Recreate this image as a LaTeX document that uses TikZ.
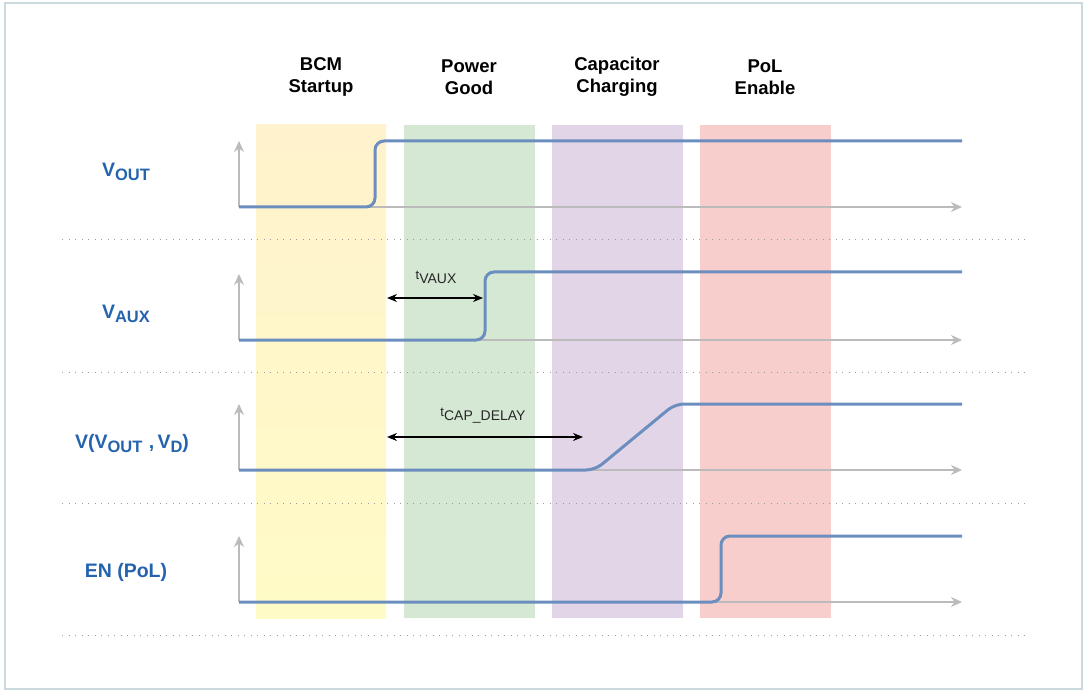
\documentclass[tikz,border=0pt]{standalone}
\usepackage{fontspec}
\setmainfont{Liberation Sans}
\usetikzlibrary{arrows.meta}
\definecolor{frame}{HTML}{C9D9DE}
\definecolor{bandY}{HTML}{FFF2CC}
\definecolor{bandY2}{HTML}{FFFBC6}
\definecolor{bandG}{HTML}{D5E8D4}
\definecolor{bandP}{HTML}{E1D5E7}
\definecolor{bandR}{HTML}{F8CECC}
\definecolor{sig}{HTML}{6C8EBF}
\definecolor{axisc}{HTML}{BBBBBB}
\definecolor{lblue}{HTML}{2563AE}
\definecolor{dotc}{HTML}{9A9A9A}
\tikzset{
  band/.style={draw=none},
  phase/.style={font=\fontsize{18.5}{22}\selectfont\bfseries, align=center, text=black},
  axis/.style={draw=axisc, line width=1.3pt, -{Stealth[length=11pt,width=10pt]}},
  signal/.style={draw=sig, line width=3pt, rounded corners=9pt},
  sep/.style={draw=dotc, line width=1pt, dash pattern=on 1pt off 5.5pt},
  rowlbl/.style={font=\fontsize{19.5}{22}\selectfont\bfseries, text=lblue},
  tarrow/.style={draw=black, line width=1.2pt, {Stealth[length=10pt,width=8pt]}-{Stealth[length=10pt,width=8pt]}},
  tlbl/.style={font=\fontsize{13}{16}\selectfont, text=black!85}
}
\newcommand{\sub}[1]{\raisebox{-4pt}{\fontsize{16.5}{18}\selectfont #1}}
\newcommand{\tsub}[1]{\raisebox{-4pt}{\fontsize{14}{16}\selectfont #1}}
\begin{document}
\begin{tikzpicture}[x=1pt,y=-1pt]
\useasboundingbox (0,0) rectangle (1086,692);
\fill[white] (0,0) rectangle (1086,692);
\draw[frame, line width=1.2pt] (5,3) rectangle (1082,689);
% bands
\shade[band, top color=bandY, bottom color=bandY2] (256,125) rectangle (386,618);
\fill[bandG] (404,125) rectangle (535,618);
\fill[bandP] (552,125) rectangle (683,618);
\fill[bandR] (700,125) rectangle (831,618);
% phase titles
\node[phase] (p1) at (321,77) {BCM\\Startup};
\node[phase] (p2) at (469,77) {Power\\Good};
\node[phase] (p3) at (617,77) {Capacitor\\Charging};
\node[phase] (p4) at (765,77) {PoL\\Enable};
% separators
\foreach \y in {240,372,503,635} \draw[sep] (62,\y) -- (1028,\y);
% axes
\foreach \b in {207,340,470,602} {
  \draw[axis] (239,\b) -- (239,\b-66);
  \draw[axis] (239,\b) -- (962,\b);
}
% signals
\draw[signal] (239,207) -- (375,207) -- (375,141) -- (962,141);
\draw[signal] (239,340) -- (485,340) -- (485,272) -- (962,272);
\draw[signal] (239,470) -- (595,470) -- (675,404) -- (962,404);
\draw[signal] (239,602) -- (721,602) -- (721,536) -- (962,536);
% row labels
\node[rowlbl] (r1) at (126,172) {V\sub{OUT}};
\node[rowlbl] (r2) at (126,314) {V\sub{AUX}};
\node[rowlbl] (r3) at (132,444) {V(V\sub{OUT}\,\,,\,V\sub{D})};
\node[rowlbl] (r4) at (126,572) {EN (PoL)};
% timing arrows
\coordinate (a1) at (387,298);
\coordinate (a2) at (483,298);
\draw[tarrow] (a1) -- (a2);
\node[tlbl] (t1) at (436,277) {t\tsub{VAUX}};
\coordinate (b1) at (387,437);
\coordinate (b2) at (583,437);
\draw[tarrow] (b1) -- (b2);
\node[tlbl] (t2) at (483,416) {t\tsub{CAP\_DELAY}};
\end{tikzpicture}
\end{document}
